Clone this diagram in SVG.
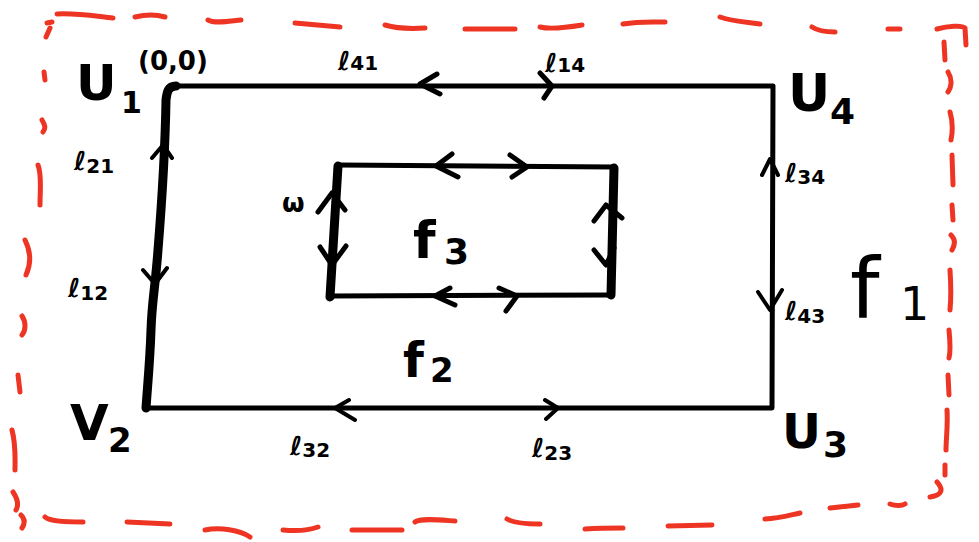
<svg xmlns="http://www.w3.org/2000/svg" width="979" height="542" viewBox="0 0 979 542">
<style>
.thin{fill:none;stroke:#000;stroke-width:5;stroke-linecap:round;stroke-linejoin:round}
.thick{fill:none;stroke:#000;stroke-width:9;stroke-linecap:round;stroke-linejoin:round}
.arr{fill:none;stroke:#000;stroke-width:4;stroke-linecap:round;stroke-linejoin:round}
.arrb{fill:none;stroke:#000;stroke-width:5;stroke-linecap:round;stroke-linejoin:round}
.red{fill:none;stroke:#ee3524;stroke-width:5;stroke-linecap:round;stroke-linejoin:round}
.t{font-family:"DejaVu Sans",sans-serif;font-weight:bold;fill:#000}
</style>
<rect width="979" height="542" fill="#fff"/>
<g id="border">
<path class="red" d="M57,14 C80,13 100,17 113,18 M135,17 C148,14 158,15 165,17 M208,20 C215,24 230,21 241,20 M295,23 L340,27 M385,25 C395,28 410,29 425,28 M465,29 L515,29 M540,27 C552,30 570,27 582,25 M623,24 C640,21 655,22 665,22 M720,17 C730,21 745,22 760,24 M812,27 C818,31 828,32 835,32 M888,29 L900,29 M937,29 C948,26 962,25 965,28 L966,45"/>
<path class="red" d="M47,23 L52,22 M50,28 L46,37 M44,72 L45,80 M42,120 C45,125 46,128 43,132 M38,165 C42,175 40,190 40,205 M25,240 C30,250 32,262 26,275 M22,316 C26,322 26,330 22,335 M18,375 L20,392 M12,430 C16,445 15,460 15,470 M13,492 C17,498 19,505 16,510 M21,515 C26,520 24,525 22,528"/>
<path class="red" d="M45,517 C50,522 70,522 83,522 M127,522 L170,524 M205,530 C220,527 240,530 250,537 M283,530 C295,531 310,530 318,527 M352,530 L402,530 M415,522 C420,518 440,520 455,521"/>
<path class="red" d="M507,519 C515,524 530,524 540,524 M585,529 C600,528 613,528 623,528 M668,526 L712,525 M765,519 C780,518 790,515 800,513 M830,508 C840,507 850,506 858,505 M890,504 C895,506 902,506 905,504 M930,497 C942,495 944,490 937,482"/>
<path class="red" d="M944,42 L945,60 M948,72 C953,80 951,88 948,92 M950,112 C953,122 953,130 951,140 M952,155 L953,185 M952,205 L953,220 M951,235 C956,240 955,245 952,250 M950,270 C951,285 951,300 950,310 M949,330 C950,340 951,350 949,358 M948,375 L949,395 M947,410 C948,425 946,440 946,450 M945,465 L945,475"/>
</g>
<g id="connectors">
<path class="thick" d="M176,86 C168,86 167,92 166,100 C165,160 162,200 158,250 C155,290 152,300 151,330 C150,360 148,380 146,408"/>
<path class="thin" d="M172,86 L773,86 L772,408 L146,408"/>
<path class="thin" d="M338,165 L614,167 M330,296 L612,295"/>
<path class="thick" d="M338,166 L330,297 M614,168 L611,295"/>
<path class="arrb" d="M437,74 L420,84 L440,94 M540,73 L552,86 L544,98"/>
<path class="arr" d="M152,158 L163,145 L172,158 M143,270 L155,284 L167,268"/>
<path class="arr" d="M762,175 L770,159 L778,175 M758,292 L770,310 L782,290"/>
<path class="arr" d="M349,400 L335,408 L355,420 M545,400 L558,408 L546,419"/>
<path class="arrb" d="M452,154 L436,166 L458,177 M510,155 L527,167 L512,177"/>
<path class="arrb" d="M450,288 L435,296 L455,305 M499,288 L517,296 L506,311"/>
<path class="arrb" d="M318,212 L332,193 L345,210 M320,247 L332,265 L346,246"/>
<path class="arrb" d="M594,221 L606,205 L622,218 M594,250 L606,265 L614,248"/>
</g>
<g id="v1"><text class="t" x="76" y="100" font-size="50">U</text><text class="t" x="121" y="113" font-size="30">1</text></g>
<g id="origin"><text class="t" x="138" y="70" font-size="26">(0,0)</text></g>
<g id="v4"><text class="t" x="788" y="111" font-size="52">U</text><text class="t" x="830" y="124" font-size="36">4</text></g>
<g id="v2"><text class="t" x="70" y="440" font-size="50">V</text><text class="t" x="108" y="452" font-size="34">2</text></g>
<g id="v3"><text class="t" x="782" y="448" font-size="48">U</text><text class="t" x="823" y="457" font-size="36">3</text></g>
<g id="labels">
<text class="t" x="338" y="70" font-size="26">ℓ<tspan font-size="20">41</tspan></text>
<text class="t" x="545" y="72" font-size="26">ℓ<tspan font-size="20">14</tspan></text>
<text class="t" x="74" y="170" font-size="26">ℓ<tspan font-size="20" dy="3">21</tspan></text>
<text class="t" x="785" y="182" font-size="26">ℓ<tspan font-size="20" dy="2">34</tspan></text>
<text class="t" x="68" y="297" font-size="26">ℓ<tspan font-size="20" dy="3">12</tspan></text>
<text class="t" x="785" y="320" font-size="26">ℓ<tspan font-size="20" dy="3">43</tspan></text>
<text class="t" x="290" y="455" font-size="26">ℓ<tspan font-size="20" dy="2">32</tspan></text>
<text class="t" x="532" y="457" font-size="26">ℓ<tspan font-size="20" dy="3">23</tspan></text>
<text class="t" x="282" y="212" font-size="26">ω</text>
</g>
<g id="f3"><text class="t" x="413" y="258" font-size="52">f</text><text class="t" x="444" y="264" font-size="36">3</text></g>
<g id="f2"><text class="t" x="403" y="377" font-size="48">f</text><text class="t" x="430" y="382" font-size="34">2</text></g>
<g id="f1"><text x="850" y="318" font-size="84" font-family="DejaVu Sans,sans-serif" fill="#000">f</text><text x="900" y="320" font-size="46" font-family="DejaVu Sans,sans-serif" fill="#000">1</text></g>
</svg>
